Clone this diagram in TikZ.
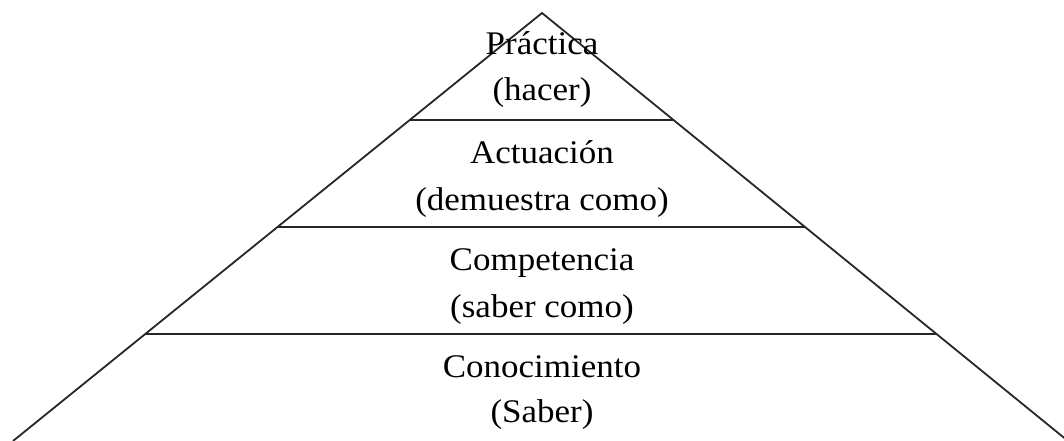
\documentclass[tikz,border=0pt]{standalone}
\usepackage{fontspec}
\setmainfont{Liberation Serif}[FakeStretch=1.06]
\usetikzlibrary{calc}
\begin{document}
\begin{tikzpicture}[x=1pt,y=-1pt,
  edge/.style={line width=1.8pt,color=black!85},
  lbl/.style={anchor=base,inner sep=0pt,font=\fontsize{33}{39}\selectfont}]
\useasboundingbox (0,0) rectangle (1064,441);
\clip (0,0) rectangle (1064,441);
\coordinate (apex) at (542,13);
\coordinate (bl) at (13,441);
\coordinate (br) at (1068,441);
\draw[edge] (bl) -- (apex) -- (br);
\foreach \t/\n in {0.25/a,0.5/b,0.75/c}{
  \coordinate (l\n) at ($(apex)!\t!(bl)$);
  \coordinate (r\n) at ($(apex)!\t!(br)$);
  \draw[edge] (l\n) -- (r\n);
}
\node[lbl] (p1) at (542,55) {Práctica};
\node[lbl] (p2) at (542,101) {(hacer)};
\node[lbl] (a1) at (542,163) {Actuación};
\node[lbl] (a2) at (542,210) {(demuestra como)};
\node[lbl] (c1) at (542,270) {Competencia};
\node[lbl] (c2) at (542,317) {(saber como)};
\node[lbl] (k1) at (542,377) {Conocimiento};
\node[lbl] (k2) at (542,422) {(Saber)};
\end{tikzpicture}
\end{document}
